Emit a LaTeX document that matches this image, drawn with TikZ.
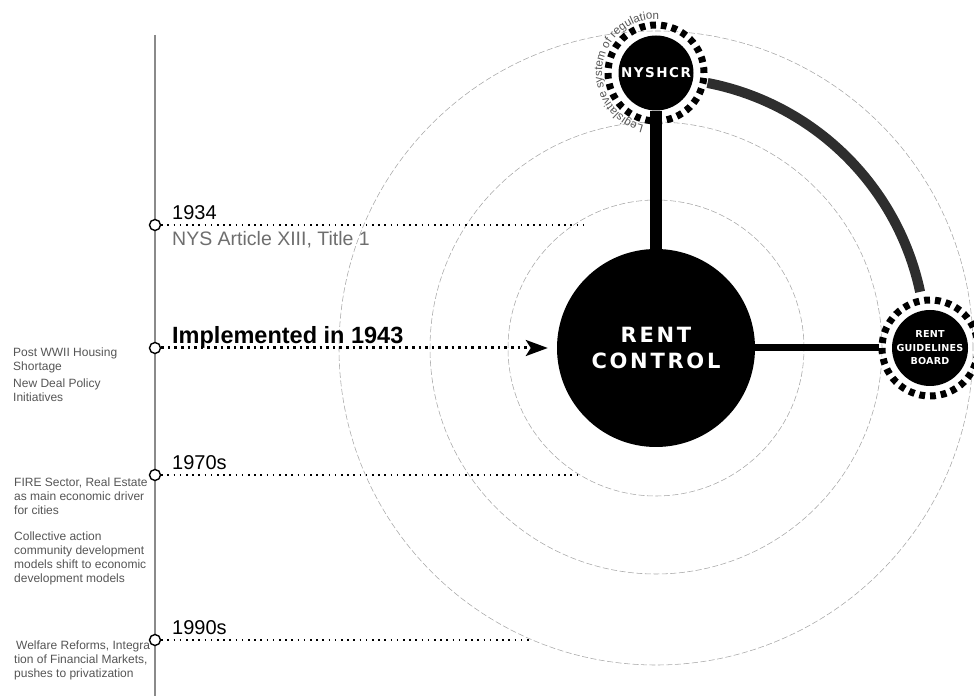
\documentclass[tikz,border=0pt]{standalone}
\usepackage{fontspec}
\setmainfont{Liberation Sans}
\newfontfamily\hubfont{DejaVu Sans}
\usetikzlibrary{arrows.meta,calc,backgrounds,decorations.text}

\definecolor{orbitgray}{HTML}{A6A6A6}
\definecolor{notegray}{HTML}{555555}
\definecolor{subgray}{HTML}{6E6E6E}
\definecolor{axisgray}{HTML}{8A8A8A}
\definecolor{arcdark}{HTML}{2E2E2E}

\begin{document}
\begin{tikzpicture}[x=1pt,y=1pt,
  orbit/.style={draw=orbitgray, line width=0.55pt, dash pattern=on 6pt off 2.5pt},
  hub/.style={circle, fill=black, text=white, align=center, inner sep=0pt},
  halo/.style={circle, draw=black, line width=7pt, line cap=butt,
               dash pattern=on 5.8pt off 4.97pt, minimum size=96pt, inner sep=0pt},
  milestone/.style={circle, draw=black, fill=white, line width=1.4pt,
                    minimum size=11pt, inner sep=0pt},
  guide/.style={line width=1.4pt, line cap=butt, dash pattern=on 1.6pt off 4.6pt},
  boldguide/.style={line width=3pt, line cap=butt, dash pattern=on 2.6pt off 4pt},
  bar/.style={line width=12pt, line cap=butt},
  thinbar/.style={line width=7pt, line cap=butt},
  linkarc/.style={draw=arcdark, line width=10pt, line cap=butt},
  year/.style={anchor=base west, inner sep=0pt, font=\fontsize{20}{24}\selectfont},
  note/.style={anchor=north west, inner sep=0pt, align=left, text=notegray,
               font=\fontsize{12}{14}\selectfont}
]
\useasboundingbox (0,0) rectangle (974,696);

% ---- hubs ----
\node[hub, minimum size=198pt,
      font=\hubfont\bfseries\fontsize{21}{26}\selectfont\addfontfeature{LetterSpace=13}]
      (rc) at (656,348) {RENT\\CONTROL};
\node[halo] (nysring) at (656,623) {};
\node[hub, minimum size=75pt,
      font=\hubfont\bfseries\fontsize{13.5}{16}\selectfont\addfontfeature{LetterSpace=11}]
      (nys) at (656,623) {NYSHCR};
\node[halo] (rgbring) at (930,348) {};
\node[hub, minimum size=76pt,
      font=\hubfont\bfseries\fontsize{9.6}{13.5}\selectfont\addfontfeature{LetterSpace=2}]
      (rgb) at (930,348) {RENT\\GUIDELINES\\BOARD};

% ---- timeline ----
\coordinate (axtop) at (155,661);
\coordinate (axbot) at (155,0);
\node[milestone] (t1934) at (155,471) {};
\node[milestone] (t1943) at (155,348) {};
\node[milestone] (t1970) at (155,221) {};
\node[milestone] (t1990) at (155,56) {};
\coordinate (e1934) at (585,471);
\coordinate (e1970) at (580,221);
\coordinate (e1990) at (532,56);

\begin{scope}[on background layer]
  % concentric orbits
  \draw[orbit] (rc.center) circle[radius=148];
  \draw[orbit] (rc.center) circle[radius=226];
  \draw[orbit] (rc.center) circle[radius=317];
  % axis
  \draw[axisgray, line width=1.3pt] (axtop) -- (axbot);
  % links between hubs
  \draw[bar] (rc.north) -- (nys.south);
  \draw[thinbar] (rc.east) -- (rgbring.west);
  \draw[linkarc] ($(rc.center)+(79:270)$) arc[start angle=79, end angle=12, radius=270];
  % dotted leaders
  \draw[guide] (t1934.east) -- (e1934);
  \draw[boldguide, -{Stealth[length=22pt, width=16pt, inset=5pt]}, shorten >=9pt]
       (t1943.east) -- (rc.west);
  \draw[guide] (t1970.east) -- (e1970);
  \draw[guide] (t1990.east) -- (e1990);
\end{scope}

% curved caption around NYSHCR
\path[decorate, decoration={text along path, text color=notegray,
      text={|\fontsize{11.5}{12}\selectfont|Legislative system of regulation}}]
  ($(nys.center)+(257:54)$) arc[start angle=257, end angle=70, radius=54];

% ---- timeline labels ----
\node[year] (y1934) at (172,476) {1934};
\node[year, text=subgray, font=\fontsize{19.5}{22}\selectfont] (art) at (172,450)
     {NYS Article XIII, Title 1};
\node[year, font=\bfseries\fontsize{23.5}{26}\selectfont] (impl) at (172,352)
     {Implemented in 1943};
\node[year] (y1970) at (172,226) {1970s};
\node[year] (y1990) at (172,62) {1990s};

% ---- side notes ----
\node[note] (n1) at (13,348) {Post WWII Housing\\Shortage};
\node[note] (n2) at (13,317) {New Deal Policy\\Initiatives};
\node[note] (n3) at (14,218) {FIRE Sector, Real Estate\\as main economic driver\\for cities};
\node[note] (n4) at (14,164) {Collective action\\community development\\models shift to economic\\development models};
\node[note] (n5) at (14,55) {\hspace{2pt}Welfare Reforms, Integra\\tion of Financial Markets,\\pushes to privatization};
\end{tikzpicture}
\end{document}
